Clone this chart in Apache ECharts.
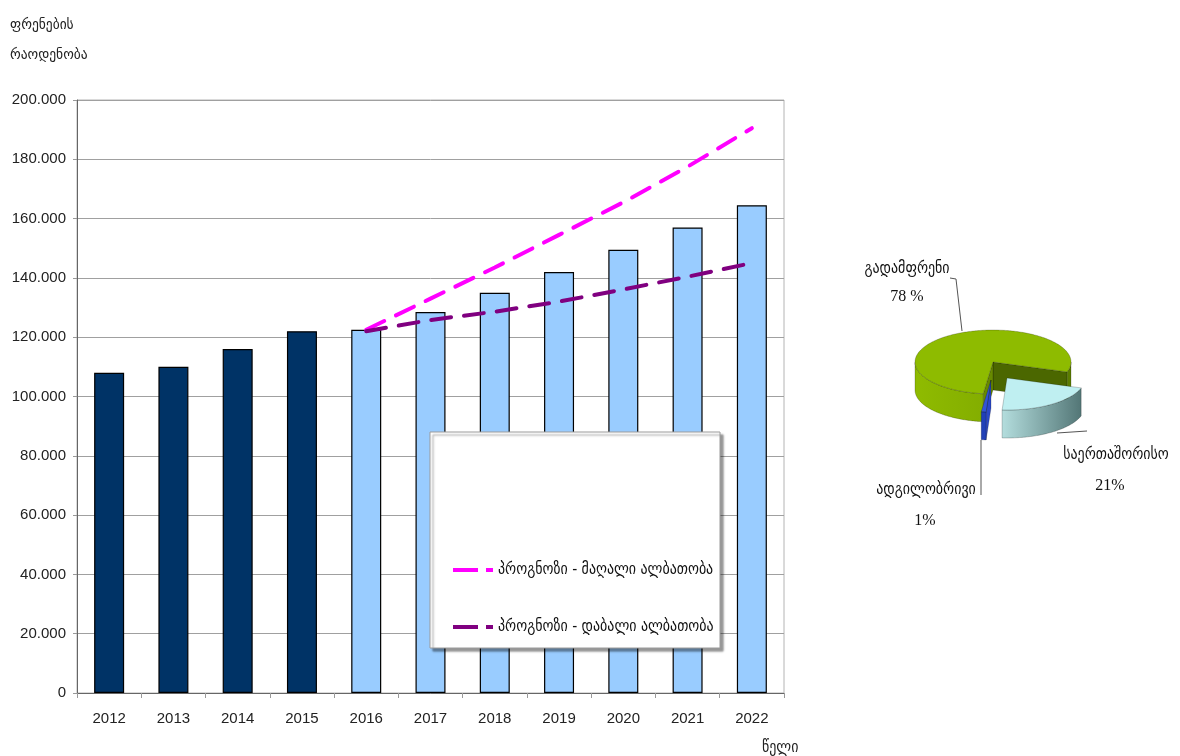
<!DOCTYPE html>
<html>
<head>
<meta charset="utf-8">
<script src="https://cdn.jsdelivr.net/npm/echarts@6/dist/echarts.min.js"></script>
<style>
html,body{margin:0;padding:0;background:#fff;}
#c{width:1180px;height:756px;}
</style>
</head>
<body>
<div id="c"></div>
<script>
// ---------------- data ----------------
const years = ['2012','2013','2014','2015','2016','2017','2018','2019','2020','2021','2022'];
const flights = [108000,110000,116000,122000,122500,128500,135000,142000,149500,157000,164500];
const actualYearCount = 4; // 2012-2015 are actual values, the rest forecast
const forecastHigh = [null,null,null,null,122500,133000,143500,154500,165500,177500,190500];
const forecastLow  = [null,null,null,null,122000,125800,128600,132000,136100,140400,145000];
const highName = 'პროგნოზი - მაღალი ალბათობა';
const lowName  = 'პროგნოზი - დაბალი ალბათობა';
const yTitle = 'ფრენების\nრაოდენობა';
const xTitle = 'წელი';

const pieNames = ['გადამფრენი','ადგილობრივი','საერთაშორისო'];
const pieValues = [78, 1, 21];
const pieValueText = ['78 %','1%','21%'];

// ---------------- styles / layout ----------------
const KA = "'DejaVu Sans Condensed','DejaVu Sans',sans-serif";
const NUM = "'Liberation Sans',Arial,sans-serif";
const SERIF = "'Liberation Serif','Times New Roman',serif";

const P = {
  cx: 993, cy: 362, rx: 78, ry: 32, depth: 28, start: -18,
  offsets: [[0,0],[-2,18],[14,16]],
  top: ['#8ebb00','#3355d6','#bfeff1'],
  cutStart: ['#4b6700','#2a48c8','#9cc6c6'],
  cutEnd: ['#688a00','#2a48c8','#9cc6c6'],
  namePos: [[-86,-93],[-67,128],[123,93]],
  valuePos: [[-86,-65],[-68,159],[117,124]],
  leaders: [
    [[-43,-84],[-37,-83],[-31,-31]],
    [[-12,78],[-12,133]],
    [[94,69],[64,71]]
  ]
};

function sideFill(i){
  const x0 = P.cx - P.rx, x1 = P.cx + P.rx;
  if(i === 0) return new echarts.graphic.LinearGradient(x0,0,x1,0,[
    {offset:0,color:'#8fbb00'},{offset:0.5,color:'#82ac00'},{offset:1,color:'#5b7c00'}],true);
  if(i === 2) return new echarts.graphic.LinearGradient(1000,0,1086,0,[
    {offset:0,color:'#b6e0e0'},{offset:1,color:'#4d7070'}],true);
  return '#2140b8';
}

const total = pieValues.reduce((a,b)=>a+b,0);
function rim(ox, oy, a, dy){
  const r = a*Math.PI/180;
  return [P.cx+ox+P.rx*Math.cos(r), P.cy+oy-P.ry*Math.sin(r)+(dy||0)];
}

function renderPie(params, api){
  const i = params.dataIndex;
  const v = api.value(0);
  let before = 0;
  for(let k=0;k<i;k++) before += pieValues[k];
  const a1 = P.start + 360*before/total;
  const a2 = a1 + 360*v/total;
  const ox = P.offsets[i][0], oy = P.offsets[i][1];
  const ax = P.cx+ox, ay = P.cy+oy;
  const stroke = 'rgba(0,0,0,0.35)';
  const children = [];
  // cut faces
  [[a1,-1,P.cutStart[i]],[a2,1,P.cutEnd[i]]].forEach(function(e){
    const nrm = (e[0] + e[1]*90)*Math.PI/180;
    if(Math.sin(nrm) < 0){
      const p = rim(ox,oy,e[0]);
      children.push({type:'polygon', shape:{points:[[ax,ay],p,[p[0],p[1]+P.depth],[ax,ay+P.depth]]},
        style:{fill:e[2], stroke:stroke, lineWidth:0.6}});
    }
  });
  // outer side wall (visible front half)
  const n = Math.max(2, Math.ceil(a2-a1));
  const angles = [];
  for(let k=0;k<=n;k++) angles.push(a1+(a2-a1)*k/n);
  const runs = []; let run = [];
  angles.forEach(function(a){
    if(Math.sin(a*Math.PI/180) <= 0.0001) run.push(a);
    else if(run.length){ runs.push(run); run = []; }
  });
  if(run.length) runs.push(run);
  runs.forEach(function(r){
    if(r.length < 2) return;
    const topPts = r.map(a=>rim(ox,oy,a));
    const botPts = r.slice().reverse().map(a=>rim(ox,oy,a,P.depth));
    children.push({type:'polygon', shape:{points:topPts.concat(botPts)},
      style:{fill:sideFill(i), stroke:stroke, lineWidth:0.6}});
  });
  // top face
  const pts = [[ax,ay]].concat(angles.map(a=>rim(ox,oy,a)));
  children.push({type:'polygon', shape:{points:pts}, style:{fill:P.top[i], stroke:stroke, lineWidth:0.6}});
  // leader line
  children.push({type:'polyline', shape:{points:P.leaders[i].map(q=>[P.cx+q[0],P.cy+q[1]])},
    style:{stroke:'#555', lineWidth:1, fill:null}});
  // labels
  children.push({type:'text', x:P.cx+P.namePos[i][0], y:P.cy+P.namePos[i][1],
    style:{text:pieNames[i], font:'15.5px '+KA, fill:'#111', align:'center', verticalAlign:'middle'}});
  children.push({type:'text', x:P.cx+P.valuePos[i][0], y:P.cy+P.valuePos[i][1],
    style:{text:pieValueText[i], font:'16px '+SERIF, fill:'#111', align:'center', verticalAlign:'middle'}});
  return {type:'group', children:children};
}

const fmt = v => String(v).replace(/\B(?=(\d{3})+(?!\d))/g, '.');

const chart = echarts.init(document.getElementById('c'));
chart.setOption({
  animation: false,
  backgroundColor: '#ffffff',
  title: [
    {text: yTitle, left: 5, top: 5,
     textStyle:{fontFamily:KA, fontSize:15, fontWeight:'normal', color:'#222', lineHeight:30}},
    {text: xTitle, left: 757, top: 735,
     textStyle:{fontFamily:KA, fontSize:15.5, fontWeight:'normal', color:'#222'}}
  ],
  grid: {left:77, right:396, top:100, bottom:63, show:true, borderColor:'#b4b4b4', borderWidth:1},
  legend: {
    data:[highName, lowName], orient:'vertical', left:446, top:557,
    itemGap:41, itemWidth:40, itemHeight:14, z:60,
    itemStyle:{opacity:0},
    lineStyle:{type:[25,8], width:4, cap:'butt'},
    textStyle:{fontFamily:KA, fontSize:15.5, color:'#111'}
  },
  graphic: {elements: [{
    type:'rect', z:50, silent:true,
    shape:{x:430, y:432, width:290, height:216},
    style:{fill:'#fff', stroke:'#9a9a9a', lineWidth:1, shadowBlur:2, shadowOffsetX:3, shadowOffsetY:3, shadowColor:'rgba(0,0,0,0.4)'}
  }]},
  xAxis: {
    type:'category', data:years, boundaryGap:true,
    axisLine:{lineStyle:{color:'#666'}},
    axisTick:{show:true, length:5, lineStyle:{color:'#999'}},
    axisLabel:{margin:18, fontFamily:NUM, fontSize:15, color:'#222'}
  },
  yAxis: {
    type:'value', min:0, max:200000, interval:20000,
    axisLine:{show:true, lineStyle:{color:'#666'}},
    axisTick:{show:true, length:4, lineStyle:{color:'#999'}},
    splitLine:{lineStyle:{color:'#a0a0a0'}},
    axisLabel:{margin:11, fontFamily:NUM, fontSize:15, color:'#222', formatter:fmt}
  },
  series: [
    {type:'bar', name:'ფრენები', data:flights, barWidth:30, z:2,
     itemStyle:{color:p => p.dataIndex < actualYearCount ? '#003366' : '#99ccff', borderColor:'#000', borderWidth:1.2}},
    {type:'line', name:highName, data:forecastHigh, symbol:'none', z:3, connectNulls:false,
     lineStyle:{color:'#ff00ff', width:4, type:[20,13], cap:'round'}, itemStyle:{color:'#ff00ff'}},
    {type:'line', name:lowName, data:forecastLow, symbol:'none', z:3, connectNulls:false,
     lineStyle:{color:'#800080', width:4, type:[20,13], cap:'round'}, itemStyle:{color:'#800080'}},
    {type:'custom', coordinateSystem:'none', silent:true, data:pieValues, renderItem:renderPie, z:5}
  ]
});
</script>
</body>
</html>
